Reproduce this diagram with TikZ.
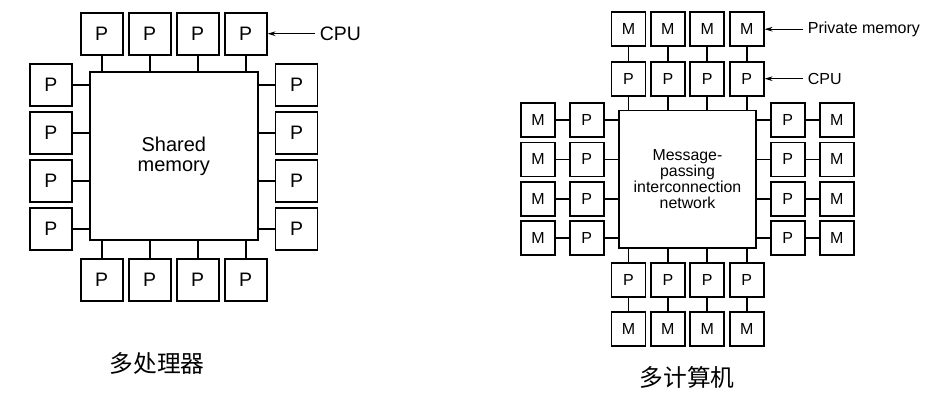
\documentclass[tikz,border=0pt]{standalone}
\usepackage{fontspec}
\setmainfont{Liberation Sans}
\newfontfamily\cjk{Noto Sans CJK SC}
\usepackage{tikz}
\usetikzlibrary{arrows.meta}

\begin{document}
\begin{tikzpicture}[x=0.75pt,y=-0.75pt,line width=1.3pt,
    pbig/.style={draw,minimum size=31.5pt,inner sep=0pt,font=\fontsize{14.6}{16}\selectfont},
    psmall/.style={draw,minimum size=25.5pt,inner sep=0pt,font=\fontsize{12}{12}\selectfont},
    notetext/.style={anchor=west,inner sep=3pt},
    pointer/.style={-{Stealth[length=6pt,width=3.5pt]},line width=0.7pt}]

    \useasboundingbox (0,0) rectangle (943,400);



    \node[draw,minimum size=126pt,align=center,font=\fontsize{15}{15}\selectfont] (shm) at (173.8,156.3) {Shared\\memory};



    \node[pbig] (t1) at (101.7,33.7) {P};
    \node[pbig] (t2) at (149.7,33.7) {P};
    \node[pbig] (t3) at (197.7,33.7) {P};
    \node[pbig] (t4) at (245.7,33.7) {P};

    \node[pbig] (b1) at (101.7,280) {P};
    \node[pbig] (b2) at (149.7,280) {P};
    \node[pbig] (b3) at (197.7,280) {P};
    \node[pbig] (b4) at (245.7,280) {P};

    \node[pbig] (l1) at (50.8,84.7) {P};
    \node[pbig] (l2) at (50.8,132.7) {P};
    \node[pbig] (l3) at (50.8,180.7) {P};
    \node[pbig] (l4) at (50.8,228.7) {P};

    \node[pbig] (r1) at (296.5,84.7) {P};
    \node[pbig] (r2) at (296.5,132.7) {P};
    \node[pbig] (r3) at (296.5,180.7) {P};
    \node[pbig] (r4) at (296.5,228.7) {P};



    \draw (t1) -- (t1 |- shm.north);
    \draw (t2) -- (t2 |- shm.north);
    \draw (t3) -- (t3 |- shm.north);
    \draw (t4) -- (t4 |- shm.north);

    \draw (b1) -- (b1 |- shm.south);
    \draw (b2) -- (b2 |- shm.south);
    \draw (b3) -- (b3 |- shm.south);
    \draw (b4) -- (b4 |- shm.south);

    \draw (l1) -- (l1 -| shm.west);
    \draw (l2) -- (l2 -| shm.west);
    \draw (l3) -- (l3 -| shm.west);
    \draw (l4) -- (l4 -| shm.west);

    \draw (r1) -- (r1 -| shm.east);
    \draw (r2) -- (r2 -| shm.east);
    \draw (r3) -- (r3 -| shm.east);
    \draw (r4) -- (r4 -| shm.east);



    \node[notetext,font=\fontsize{14.6}{16}\selectfont] (cpu) at (315,33.7) {CPU};
    \draw[pointer] (cpu) -- (t4);

    \node[font=\cjk\fontsize{17.8}{20}\selectfont] (cap1) at (157,363) {多处理器};










    \node[draw,minimum size=103pt,align=center,font=\fontsize{11.9}{11.9}\selectfont] (net) at (687.5,179.2) {Message-\\passing\\interconnection\\network};



    \node[psmall] (tm1) at (628.5,29.2) {M};
    \node[psmall] (tm2) at (667.9,29.2) {M};
    \node[psmall] (tm3) at (707.3,29.2) {M};
    \node[psmall] (tm4) at (746.7,29.2) {M};

    \node[psmall] (tp1) at (628.5,78.7) {P};
    \node[psmall] (tp2) at (667.9,78.7) {P};
    \node[psmall] (tp3) at (707.3,78.7) {P};
    \node[psmall] (tp4) at (746.7,78.7) {P};

    \node[psmall] (bp1) at (628.5,279.8) {P};
    \node[psmall] (bp2) at (667.9,279.8) {P};
    \node[psmall] (bp3) at (707.3,279.8) {P};
    \node[psmall] (bp4) at (746.7,279.8) {P};

    \node[psmall] (bm1) at (628.5,329) {M};
    \node[psmall] (bm2) at (667.9,329) {M};
    \node[psmall] (bm3) at (707.3,329) {M};
    \node[psmall] (bm4) at (746.7,329) {M};

    \node[psmall] (lm1) at (538,120) {M};
    \node[psmall] (lm2) at (538,159.4) {M};
    \node[psmall] (lm3) at (538,198.8) {M};
    \node[psmall] (lm4) at (538,238.2) {M};

    \node[psmall] (lp1) at (586.7,120) {P};
    \node[psmall] (lp2) at (586.7,159.4) {P};
    \node[psmall] (lp3) at (586.7,198.8) {P};
    \node[psmall] (lp4) at (586.7,238.2) {P};

    \node[psmall] (rp1) at (787.8,120) {P};
    \node[psmall] (rp2) at (787.8,159.4) {P};
    \node[psmall] (rp3) at (787.8,198.8) {P};
    \node[psmall] (rp4) at (787.8,238.2) {P};

    \node[psmall] (rm1) at (836.8,120) {M};
    \node[psmall] (rm2) at (836.8,159.4) {M};
    \node[psmall] (rm3) at (836.8,198.8) {M};
    \node[psmall] (rm4) at (836.8,238.2) {M};



    \draw (tm1) -- (tp1);
    \draw (tm2) -- (tp2);
    \draw (tm3) -- (tp3);
    \draw (tm4) -- (tp4);

    \draw (tp1) -- (tp1 |- net.north);
    \draw (tp2) -- (tp2 |- net.north);
    \draw (tp3) -- (tp3 |- net.north);
    \draw (tp4) -- (tp4 |- net.north);

    \draw (bp1) -- (bp1 |- net.south);
    \draw (bp2) -- (bp2 |- net.south);
    \draw (bp3) -- (bp3 |- net.south);
    \draw (bp4) -- (bp4 |- net.south);

    \draw (bm1) -- (bp1);
    \draw (bm2) -- (bp2);
    \draw (bm3) -- (bp3);
    \draw (bm4) -- (bp4);

    \draw (lm1) -- (lp1);
    \draw (lm2) -- (lp2);
    \draw (lm3) -- (lp3);
    \draw (lm4) -- (lp4);

    \draw (lp1) -- (lp1 -| net.west);
    \draw (lp2) -- (lp2 -| net.west);
    \draw (lp3) -- (lp3 -| net.west);
    \draw (lp4) -- (lp4 -| net.west);

    \draw (rp1) -- (rp1 -| net.east);
    \draw (rp2) -- (rp2 -| net.east);
    \draw (rp3) -- (rp3 -| net.east);
    \draw (rp4) -- (rp4 -| net.east);

    \draw (rm1) -- (rp1);
    \draw (rm2) -- (rp2);
    \draw (rm3) -- (rp3);
    \draw (rm4) -- (rp4);



    \node[notetext,font=\fontsize{12}{12}\selectfont] (privmem) at (803,29.2) {Private memory};
    \draw[pointer] (privmem) -- (tm4);

    \node[notetext,font=\fontsize{12}{12}\selectfont] (cpu2) at (803,78.7) {CPU};
    \draw[pointer] (cpu2) -- (tp4);

    \node[font=\cjk\fontsize{17.8}{20}\selectfont] (cap2) at (687,377) {多计算机};

  \end{tikzpicture}
\end{document}
